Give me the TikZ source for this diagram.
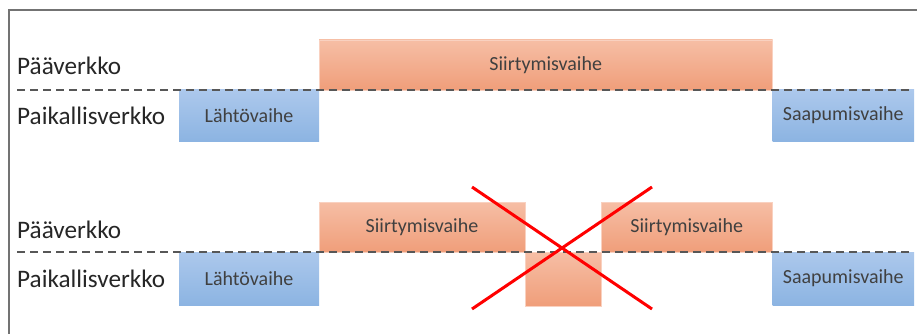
\documentclass[tikz,border=0pt]{standalone}
\usepackage{fontspec}
\setmainfont{Carlito}
\usetikzlibrary{positioning}
\definecolor{siirtotop}{RGB}{246,190,165}
\definecolor{siirtobot}{RGB}{240,158,122}
\definecolor{paikaltop}{RGB}{172,200,236}
\definecolor{paikalbot}{RGB}{140,180,226}
\tikzset{
  verkko/.style = {anchor=west, inner sep=0pt, text=black!85,
                   font=\fontsize{25.2}{29}\selectfont},
  vaihe/.style = {rectangle, anchor=north west, inner sep=0pt, outer sep=0pt,
                  text=black!75, font=\fontsize{20}{24}\selectfont},
  siirto/.style = {vaihe, top color=siirtotop, bottom color=siirtobot,
                   draw=siirtotop!70!white, line width=0.6pt},
  paikal/.style = {vaihe, top color=paikaltop, bottom color=paikalbot}
}

\begin{document}
\begin{tikzpicture}[x=1pt, y=-1pt]
	\def \xa{179}  % start of Lahtovaihe
	\def \xb{319}  % start of main network
	\def \xc{772.5}% end of main network
	\def \xd{914}  % end of Saapumisvaihe
	\def \h{50}    % height of one phase
	
	\useasboundingbox (0,0) rectangle (917,334);
	
	% Frame
	\draw[black!55, line width=2.5pt] (9,334) -- (9,10) -- (917,10);
	
	% Upper case
	\node[verkko] (pv1) at (17,66) {Pääverkko};
	\node[verkko] (lv1) at (17,116) {Paikallisverkko};
	\node[paikal, minimum width=\xb-\xa, minimum height=51] (lah1) at (\xa,90) {Lähtövaihe};
	\node[siirto, minimum width=\xc-\xb, minimum height=\h] (sii1) at (\xb,40) {Siirtymisvaihe};
	\node[paikal, minimum width=\xd-\xc, minimum height=51] (saa1) at (\xc,90) {Saapumisvaihe};
	\coordinate (d1a) at (17,90);
	\coordinate (d1b) at (913,90);
	\draw[black!66, line width=2.2pt, dash pattern=on 8pt off 5pt] (d1a) -- (d1b);
	
	% Lower case
	\node[verkko] (pv2) at (17,230) {Pääverkko};
	\node[verkko] (lv2) at (17,279) {Paikallisverkko};
	\node[paikal, minimum width=\xb-\xa, minimum height=53] (lah2) at (\xa,252) {Lähtövaihe};
	\node[siirto, minimum width=525-\xb, minimum height=\h] (sii2) at (\xb,202) {Siirtymisvaihe};
	\node[siirto, minimum width=76, minimum height=54] (sii3) at (525,252) {};
	\node[siirto, minimum width=\xc-601, minimum height=\h] (sii4) at (601,202) {Siirtymisvaihe};
	\node[paikal, minimum width=\xd-\xc, minimum height=53] (saa2) at (\xc,252) {Saapumisvaihe};
	\coordinate (d2a) at (17,252);
	\coordinate (d2b) at (913,252);
	\draw[black!66, line width=2.2pt, dash pattern=on 8pt off 5pt] (d2a) -- (d2b);
	
	% Cross
	\coordinate (x1) at (472,187);
	\coordinate (x2) at (652,187);
	\coordinate (x3) at (472,309);
	\coordinate (x4) at (652,309);
	\draw[red, line width=3pt] (x1) -- (x4);
	\draw[red, line width=3pt] (x3) -- (x2);
	
\end{tikzpicture}
\end{document}
